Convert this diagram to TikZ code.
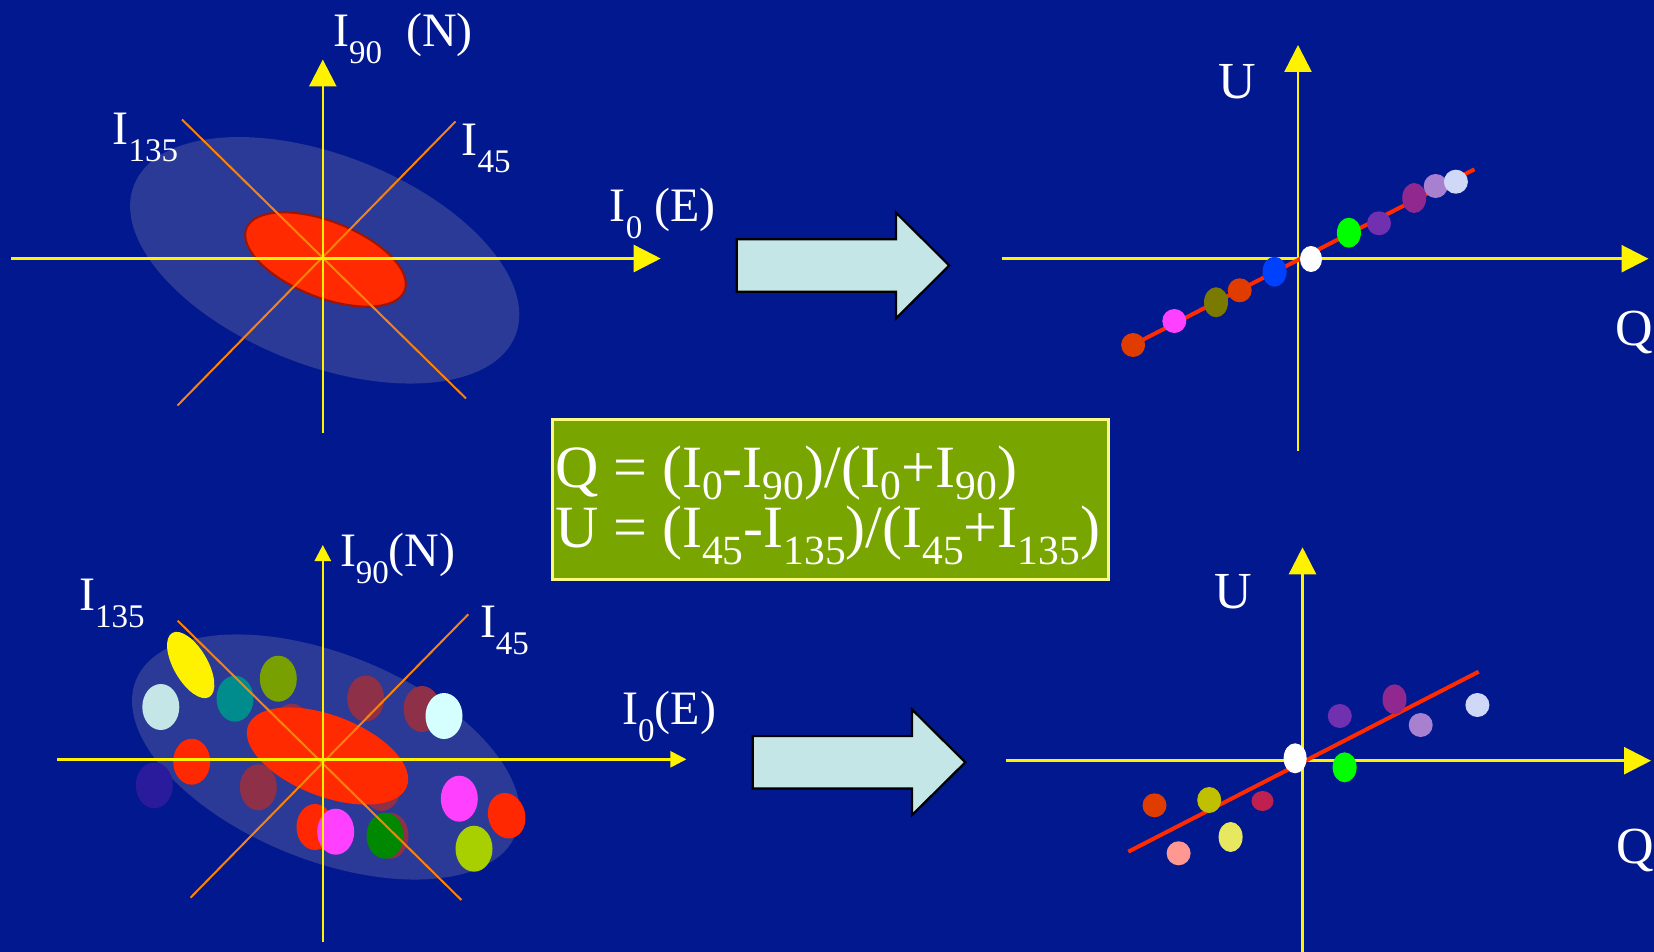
\documentclass[tikz,border=0pt]{standalone}
\usepackage{fontspec}
\setmainfont{Liberation Serif}
\usetikzlibrary{positioning,arrows.meta,shapes.geometric}
\definecolor{slidebg}{RGB}{2,24,143}
\definecolor{halocol}{RGB}{42,58,150}
\definecolor{corered}{RGB}{255,42,0}
\definecolor{coreedge}{RGB}{160,20,0}
\definecolor{diagcol}{RGB}{250,130,10}
\definecolor{arrfill}{RGB}{196,230,230}
\definecolor{eqfill}{RGB}{120,165,0}
\definecolor{eqedge}{RGB}{250,250,130}
% dots on the Q-U planes
\definecolor{dRedor}{RGB}{224,60,0}
\definecolor{dMag}{RGB}{255,64,255}
\definecolor{dOlive}{RGB}{122,122,0}
\definecolor{dBlue}{RGB}{0,64,255}
\definecolor{dGreen}{RGB}{0,255,0}
\definecolor{dPurp}{RGB}{112,48,176}
\definecolor{dPlum}{RGB}{144,40,144}
\definecolor{dLilac}{RGB}{168,128,208}
\definecolor{dLav}{RGB}{208,216,248}
\definecolor{dMust}{RGB}{192,192,0}
\definecolor{dCrim}{RGB}{192,32,80}
\definecolor{dCream}{RGB}{232,232,96}
\definecolor{dPink}{RGB}{255,152,144}
% blobs of the extended source
\definecolor{bIce}{RGB}{197,230,230}
\definecolor{bTeal}{RGB}{0,140,140}
\definecolor{bOlive}{RGB}{120,160,0}
\definecolor{bRed}{RGB}{255,40,0}
\definecolor{bIndigo}{RGB}{42,26,156}
\definecolor{bMaroon}{RGB}{142,48,72}
\definecolor{bCyan}{RGB}{213,255,255}
\definecolor{bLime}{RGB}{168,208,0}
\definecolor{bGreen}{RGB}{0,136,0}
\newcommand{\Ilab}[1]{I\raisebox{-17pt}{\fontsize{33}{33}\selectfont #1}}
\newcommand{\Isb}[2][12pt]{I\raisebox{-#1}{\fontsize{41.5}{42}\selectfont #2}}
\tikzset{
  axln/.style={yellow,line width=2.6pt,-{Triangle[length=27pt,width=27pt]}},
  axsm/.style={yellow,line width=2.6pt,-{Triangle[length=16pt,width=16pt]}},
  diagln/.style={draw=diagcol,line width=2pt},
  halo/.style={fill=halocol},
  core/.style={ellipse,inner sep=0pt,fill=corered},
  spot/.style={ellipse,inner sep=0pt,minimum width=24pt,minimum height=24pt},
  spottall/.style={spot,minimum height=30pt},
  blob/.style={ellipse,inner sep=0pt,minimum width=37pt,minimum height=46pt},
  fitln/.style={draw=corered,line width=4pt},
  blockarr/.style={fill=arrfill,draw=black,line width=2.2pt,line join=miter},
  lbl/.style={text=white,font=\fontsize{48}{50}\selectfont,inner sep=0pt,anchor=base west},
  lblqu/.style={lbl,font=\fontsize{52}{54}\selectfont},
  eqbox/.style={fill=eqfill,draw=eqedge,line width=2.6pt,minimum width=556pt,minimum height=160pt,inner sep=0pt},
  eqtxt/.style={text=white,font=\fontsize{60}{60}\selectfont,inner sep=0pt,anchor=base west},
}
\begin{document}
\begin{tikzpicture}[x=1pt,y=-1pt]
  \useasboundingbox (0,0) rectangle (1654,952);
  \fill[slidebg] (0,0) rectangle (1654,952);
  % ---- upper left: single source ----
  \fill[halo] (324.7,260.3) ellipse [x radius=205pt,y radius=105pt,rotate=-21.5];
  \node[core,draw=coreedge,line width=2pt,minimum width=170pt,minimum height=76pt,rotate=-21.5] (srcA) at (325.5,259.5) {};
  \coordinate (dA1s) at (182,119.5);   \coordinate (dA1e) at (466,398.5);
  \coordinate (dA2s) at (455.5,121.5); \coordinate (dA2e) at (177.5,405.5);
  \draw[diagln] (dA1s) -- (dA1e);
  \draw[diagln] (dA2s) -- (dA2e);
  \coordinate (axAw) at (11,258.5);    \coordinate (axAe) at (660.7,258.5);
  \coordinate (axAs) at (322.8,433);   \coordinate (axAn) at (322.8,59.5);
  \draw[axln] (axAw) -- (axAe);
  \draw[axln] (axAs) -- (axAn);
  \node[lbl] (lAn) at (333,46.7) {\Ilab{90}~~(N)};
  \node[lbl] (lAd1) at (112.5,145) {\Ilab{135}};
  \node[lbl] (lAd2) at (461.5,156) {\Ilab{45}};
  \node[lbl] (lAe) at (609.7,221.7) {\Ilab{0} (E)};
  % block arrows
  \draw[blockarr,shift={(736.7,265.5)}] (0,-26.2) -- (159.3,-26.2) -- (159.3,-52.8) -- (212.6,0)
    -- (159.3,52.8) -- (159.3,26.2) -- (0,26.2) -- cycle;
  \draw[blockarr,shift={(752.7,762.3)}] (0,-26.2) -- (159.3,-26.2) -- (159.3,-52.8) -- (212.6,0)
    -- (159.3,52.8) -- (159.3,26.2) -- (0,26.2) -- cycle;
  % ---- upper right: Q-U plane, aligned points ----
  \coordinate (axBw) at (1001.5,258.7); \coordinate (axBe) at (1648.5,258.7);
  \coordinate (axBs) at (1298,450.7);   \coordinate (axBn) at (1298,45);
  \draw[axln] (axBw) -- (axBe);
  \draw[axln] (axBs) -- (axBn);
  \coordinate (fitBs) at (1132.6,345);  \coordinate (fitBe) at (1474.4,169.3);
  \draw[fitln] (fitBs) -- (fitBe);
  \node[spot,fill=dRedor] (qA1) at (1133.1,345) {};
  \node[spot,fill=dMag] (qA2) at (1174.3,321) {};
  \node[spottall,fill=dOlive] (qA3) at (1216,302.3) {};
  \node[spot,fill=dRedor] (qA4) at (1239.7,290.3) {};
  \node[spottall,fill=dBlue] (qA5) at (1274.5,271.7) {};
  \node[spot,fill=white,minimum width=22pt,minimum height=26pt] (qA6) at (1311,259) {};
  \node[spottall,fill=dGreen] (qA7) at (1348.9,232.7) {};
  \node[spot,fill=dPurp] (qA8) at (1379,223.3) {};
  \node[spottall,fill=dPlum] (qA9) at (1414.2,198) {};
  \node[spot,fill=dLilac] (qA10) at (1435.7,186) {};
  \node[spot,fill=dLav] (qA11) at (1455.9,181.7) {};
  \node[lblqu] (lBu) at (1218.6,98.3) {U};
  \node[lblqu] (lBq) at (1615.4,345) {Q};
  % ---- Stokes box ----
  \node[eqbox] (eqbox) at (830.4,499.5) {};
  \node[eqtxt] (eqQU) at (554.8,487.3) {\vtop{\baselineskip=60pt\lineskiplimit=-100pt
    \hbox{Q = (\Isb{0}-\Isb{90})/(\Isb{0}+\Isb{90})}
    \hbox{U = (\Isb[17pt]{45}-\Isb[17pt]{135})/(\Isb[17pt]{45}+\Isb[17pt]{135})}}};
  % ---- lower left: extended source ----
  \fill[halo] (326,757) ellipse [x radius=205pt,y radius=103pt,rotate=-22];
  \node[blob,fill=bIndigo] (bl1) at (154.3,785.3) {};
  \node[blob,fill=bIce] (bl2) at (160.8,707) {};
  \node[blob,fill=bTeal] (bl3) at (235,698.7) {};
  \node[blob,fill=bOlive] (bl4) at (278.3,678.7) {};
  \node[blob,fill=bRed] (bl5) at (191.7,761.7) {};
  \node[blob,fill=bMaroon] (bl6) at (258.3,787.3) {};
  \node[blob,fill=bMaroon] (bl7) at (291.7,726.7) {};
  \node[blob,fill=bMaroon] (bl8) at (365.7,698.5) {};
  \node[blob,fill=bMaroon] (bl9) at (422,709) {};
  \node[blob,fill=bMaroon] (bl10) at (381.7,788) {};
  \node[blob,fill=bMaroon] (bl11) at (390,835.7) {};
  \node[blob,fill=bRed] (bl12) at (315,827) {};
  \node[ellipse,inner sep=0pt,fill=yellow,minimum width=74pt,minimum height=34pt,rotate=-60] (bl13) at (190.7,665) {};
  \node[core,minimum width=170pt,minimum height=81pt,rotate=-21] (srcB) at (327.5,756) {};
  \node[blob,fill=bCyan] (bl14) at (444,716) {};
  \node[blob,fill=dMag] (bl15) at (335.7,831.7) {};
  \node[blob,fill=bGreen] (bl16) at (385,835.7) {};
  \node[blob,fill=dMag] (bl17) at (459.3,798.7) {};
  \node[blob,fill=bRed,rotate=15] (bl18) at (506.7,815.7) {};
  \node[blob,fill=bLime] (bl19) at (474,848.7) {};
  \coordinate (dB1s) at (177.7,620.7); \coordinate (dB1e) at (461.4,900);
  \coordinate (dB2s) at (468.3,614.3); \coordinate (dB2e) at (190.5,897.7);
  \draw[diagln] (dB1s) -- (dB1e);
  \draw[diagln] (dB2s) -- (dB2e);
  \coordinate (axCw) at (57.4,759.3);  \coordinate (axCe) at (686.4,759.3);
  \coordinate (axCs) at (322.8,941.7); \coordinate (axCn) at (322.8,545);
  \draw[axsm] (axCw) -- (axCe);
  \draw[axsm] (axCs) -- (axCn);
  \node[lbl] (lCn) at (339.8,566.7) {\Ilab{90}(N)};
  \node[lbl] (lCd1) at (79,610.7) {\Ilab{135}};
  \node[lbl] (lCd2) at (479.8,637.3) {\Ilab{45}};
  \node[lbl] (lCe) at (622,724) {\Ilab{0}(E)};
  % ---- lower right: Q-U plane, scattered points ----
  \coordinate (axDw) at (1005.8,760.7); \coordinate (axDe) at (1651,760.7);
  \coordinate (axDs) at (1302.5,952);   \coordinate (axDn) at (1302.5,547.3);
  \draw[axln] (axDw) -- (axDe);
  \draw[axln] (axDs) -- (axDn);
  \coordinate (fitDs) at (1128.3,851.7); \coordinate (fitDe) at (1478.7,671.7);
  \draw[fitln] (fitDs) -- (fitDe);
  \node[spottall,fill=white,minimum width=23pt] (qB1) at (1295.1,758.3) {};
  \node[spottall,fill=dGreen] (qB2) at (1344.6,767.3) {};
  \node[spot,fill=dPurp] (qB3) at (1339.8,716) {};
  \node[spottall,fill=dPlum] (qB4) at (1394.5,699.3) {};
  \node[spot,fill=dLilac] (qB5) at (1420.7,725) {};
  \node[spot,fill=dLav] (qB6) at (1477.4,705) {};
  \node[spot,fill=dRedor] (qB7) at (1154.5,805.3) {};
  \node[spot,fill=dMust,minimum height=26pt] (qB8) at (1209.2,800) {};
  \node[spot,fill=dCrim,minimum width=22pt,minimum height=20pt] (qB9) at (1262.5,801) {};
  \node[spottall,fill=dCream] (qB10) at (1230.6,837) {};
  \node[spot,fill=dPink] (qB11) at (1178.6,853.3) {};
  \node[lblqu] (lDu) at (1214,608.3) {U};
  \node[lblqu] (lDq) at (1616,863.3) {Q};
\end{tikzpicture}
\end{document}
